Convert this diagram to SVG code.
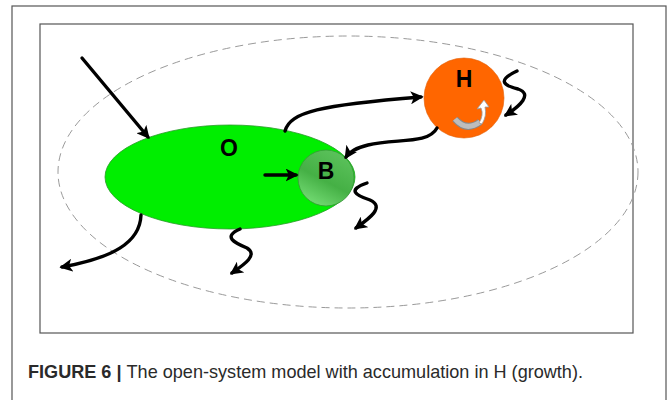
<svg xmlns="http://www.w3.org/2000/svg" width="670" height="400" viewBox="0 0 670 400">
  <defs>
    <style>
      .frame { fill: none; stroke: #555; stroke-width: 1.2; }
      .flow { fill: none; stroke: #000; stroke-width: 3.4; stroke-linecap: round; }
      .lbl { font-family: "Liberation Sans", Arial, sans-serif; font-weight: bold; font-size: 23px; fill: #000; text-anchor: middle; }
      .cap { font-family: "Liberation Sans", Arial, sans-serif; font-size: 19px; fill: #2a2a2a; }
    </style>
    <marker id="ah" viewBox="0 0 10 10" refX="8" refY="5" markerWidth="13" markerHeight="13" markerUnits="userSpaceOnUse" orient="auto">
      <path d="M0,0 L10,5 L0,10 L2.5,5 Z" fill="#000"/>
    </marker>
    <linearGradient id="gB" x1="0.7" y1="0" x2="0.2" y2="0.95">
      <stop offset="0" stop-color="#5cc25c"/>
      <stop offset="0.55" stop-color="#45b045"/>
      <stop offset="1" stop-color="#74dc74"/>
    </linearGradient>
  </defs>

  <rect class="frame" x="12" y="6" width="654" height="400"/>
  <rect class="frame" x="40" y="24" width="593" height="309"/>

  <ellipse cx="348" cy="172" rx="290" ry="136" fill="none" stroke="#9a9a9a" stroke-width="1" stroke-dasharray="8 5"/>

  <g id="O">
    <ellipse cx="230" cy="177" rx="125" ry="52" fill="#00ee00" stroke="#2a9a2a" stroke-width="0.8"/>
    <text class="lbl" x="229" y="156">O</text>
  </g>

  <g id="B">
    <circle cx="326" cy="178" r="28" fill="url(#gB)" stroke="#3a963a" stroke-width="0.8"/>
    <text class="lbl" x="326" y="179">B</text>
  </g>

  <g id="H">
    <circle cx="464" cy="98" r="40" fill="#ff6600" stroke="#e05a00" stroke-width="0.6"/>
    <text class="lbl" x="464" y="87">H</text>
    <path d="M455,119 Q466,132 480,122" fill="none" stroke="#888" stroke-width="7"/>
    <path d="M455,119 Q466,132 480,122" fill="none" stroke="#bdbdbd" stroke-width="5"/>
    <path d="M479,123 Q484,115 481,108 L477,109 L484,100 L489,107 L485,107 Q487,116 482,124 Z" fill="#fff" stroke="#999" stroke-width="0.8"/>
  </g>

  <g id="connectors">
    <path class="flow" d="M82,58 L148,137" marker-end="url(#ah)"/>
    <path class="flow" d="M285,131 C290,112 320,105 421,97" marker-end="url(#ah)"/>
    <path class="flow" d="M437,128 C428,145 395,138 368,145 C356,148 350,151 346,157" marker-end="url(#ah)"/>
    <path class="flow" d="M265,175 L296,175" marker-end="url(#ah)"/>
    <path class="flow" d="M517,71 C498,80 502,85 518,89 C533,94 520,106 506,115" marker-end="url(#ah)"/>
    <path class="flow" d="M367,183 C347,190 355,195 370,200 C385,207 370,218 356,228" marker-end="url(#ah)"/>
    <path class="flow" d="M240,229 C222,237 235,243 247,248 C258,255 245,264 232,273" marker-end="url(#ah)"/>
    <path class="flow" d="M141,215 C140,243 112,258 62,267" marker-end="url(#ah)"/>
  </g>

  <text class="cap" x="28" y="378" textLength="555" lengthAdjust="spacingAndGlyphs"><tspan font-weight="bold">FIGURE 6 | </tspan>The open-system model with accumulation in H (growth).</text>
</svg>
